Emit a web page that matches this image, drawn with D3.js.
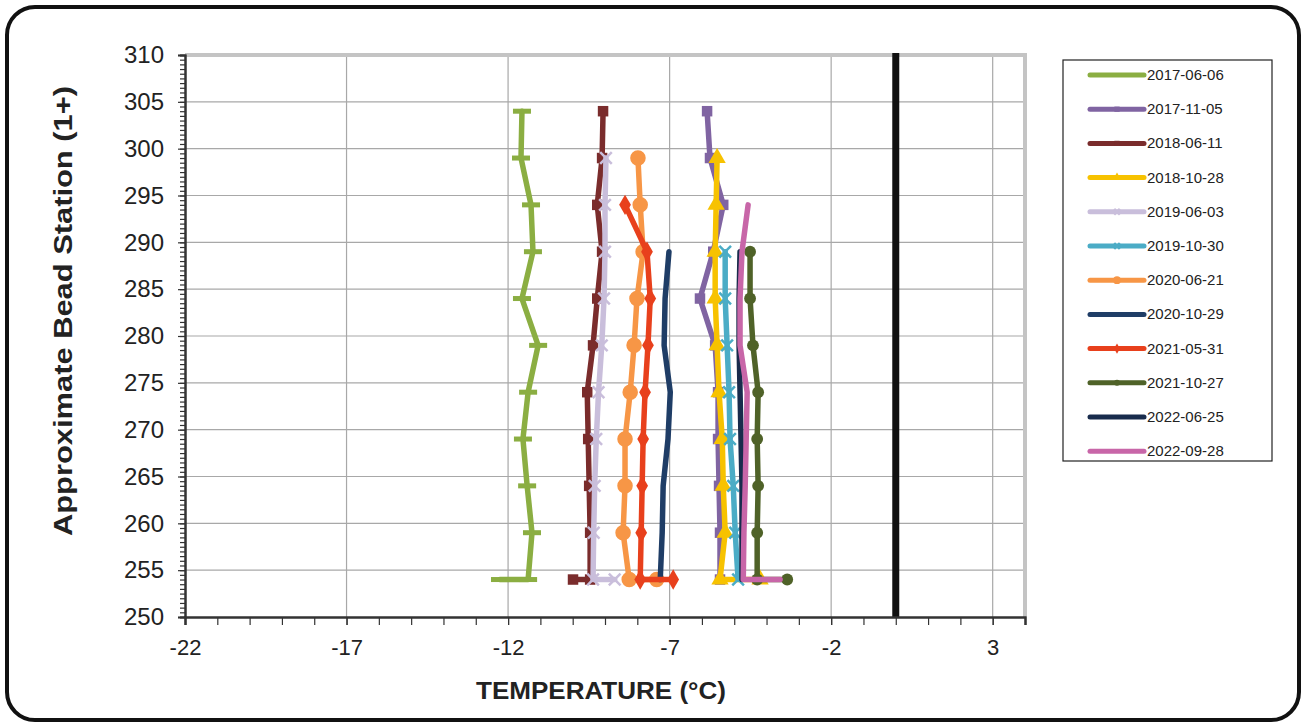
<!DOCTYPE html>
<html>
<head>
<meta charset="utf-8">
<script src="https://cdn.jsdelivr.net/npm/d3@7"></script>
<style>
  body { margin: 0; background: #fff; }
  svg { display: block; font-family: Arial, "Liberation Sans", sans-serif; }
</style>
</head>
<body>
<div id="d3"></div>
<script>
// stations, top to bottom; the last 254 is the bottom bead reading
const stations = [304, 299, 294, 289, 284, 279, 274, 269, 264, 259, 254, 254];

const dates = ['2017-06-06', '2017-11-05', '2018-06-11', '2018-10-28', '2019-06-03', '2019-10-30',
  '2020-06-21', '2020-10-29', '2021-05-31', '2021-10-27', '2022-06-25', '2022-09-28'];

const t20170606 = [-11.57, -11.60, -11.29, -11.23, -11.57, -11.07, -11.38, -11.54, -11.41, -11.26, -11.38, -12.25];
const t20171105 = [-5.84, -5.75, -5.34, -5.65, -6.06, -5.59, -5.50, -5.50, -5.47, -5.44, -5.44, null];
const t20180611 = [-9.06, -9.09, -9.24, -9.09, -9.24, -9.37, -9.55, -9.52, -9.49, -9.46, -9.46, -9.99];
const t20181028 = [null, -5.53, -5.56, -5.59, -5.59, -5.53, -5.47, -5.37, -5.34, -5.28, -5.44, -4.20];
const t20190603 = [null, -8.97, -9.00, -9.00, -9.03, -9.10, -9.20, -9.27, -9.32, -9.35, -9.37, -8.70];
const t20191030 = [null, null, null, -5.28, -5.28, -5.22, -5.16, -5.13, -5.03, -4.97, -4.88, null];
const t20200621 = [null, -7.98, -7.91, -7.82, -8.01, -8.10, -8.22, -8.38, -8.38, -8.44, -8.25, -7.40];
const t20201029 = [null, null, null, -7.02, -7.14, -7.17, -6.98, -7.05, -7.20, -7.23, -7.29, null];
const t20210531 = [null, null, -8.38, -7.70, -7.60, -7.67, -7.76, -7.82, -7.85, -7.88, -7.91, -6.89];
const t20211027 = [null, null, null, -4.51, -4.51, -4.42, -4.26, -4.29, -4.26, -4.29, -4.29, -3.36];
const t20220625 = [null, null, null, -4.82, -4.85, -4.85, -4.82, -4.79, -4.76, -4.76, -4.76, null];
const t20220928 = [null, null, -4.57, -4.76, -4.82, -4.82, -4.60, -4.63, -4.66, -4.70, -4.72, -3.58];

const xTicks = [-22, -17, -12, -7, -2, 3];
const yTicks = [250, 255, 260, 265, 270, 275, 280, 285, 290, 295, 300, 305, 310];
const freezeLine = 0;

const temps = [t20170606, t20171105, t20180611, t20181028, t20190603, t20191030,
  t20200621, t20201029, t20210531, t20211027, t20220625, t20220928];

const colors = ['#8BAE42', '#8064A2', '#7A2C2C', '#F7C200', '#C9BEDB', '#4BACC6',
  '#F79646', '#1F3D66', '#E8401C', '#4F6228', '#182B4C', '#C866A8'];
const markers = ['dash', 'square', 'square', 'triangle', 'x', 'x',
  'circle', 'none', 'diamond', 'circle', 'none', 'none'];

const W = 1306, H = 727;
const plot = { left: 185, top: 55, right: 1025, bottom: 617 };

const x = d3.scaleLinear().domain([-22, 4]).range([plot.left, plot.right]);
const y = d3.scaleLinear().domain([250, 310]).range([plot.bottom, plot.top]);

const svg = d3.select('#d3').append('svg')
  .attr('width', W)
  .attr('height', H);

// outer frame
svg.append('rect')
  .attr('x', 7).attr('y', 7)
  .attr('width', W - 14).attr('height', H - 14)
  .attr('rx', 28)
  .attr('fill', '#fff')
  .attr('stroke', '#111')
  .attr('stroke-width', 4);

// gridlines
svg.append('g')
  .selectAll('line')
  .data(yTicks.slice(1, -1))
  .enter().append('line')
  .attr('x1', plot.left).attr('x2', plot.right)
  .attr('y1', (d) => y(d)).attr('y2', (d) => y(d))
  .attr('stroke', '#A8A8A8').attr('stroke-width', 1.2);

svg.append('g')
  .selectAll('line')
  .data(xTicks.slice(1))
  .enter().append('line')
  .attr('x1', (d) => x(d)).attr('x2', (d) => x(d))
  .attr('y1', plot.top).attr('y2', plot.bottom)
  .attr('stroke', '#A8A8A8').attr('stroke-width', 1.2);

// plot border (top/right light gray)
svg.append('path')
  .attr('d', `M${plot.left},${plot.top}H${plot.right}V${plot.bottom}`)
  .attr('fill', 'none')
  .attr('stroke', '#C4C4C4')
  .attr('stroke-width', 4);

// 0 °C line
svg.append('line')
  .attr('x1', x(freezeLine)).attr('x2', x(freezeLine))
  .attr('y1', plot.top - 2).attr('y2', plot.bottom)
  .attr('stroke', '#111')
  .attr('stroke-width', 7);

// axes
const yAxis = d3.axisLeft(y).tickValues(yTicks).tickSize(7).tickPadding(14).tickFormat((d) => String(d));
const yMinor = d3.axisLeft(y).tickValues(d3.range(250, 310.1, 0.5)).tickSize(5).tickFormat('');
const xAxis = d3.axisBottom(x).tickValues(xTicks).tickSize(8).tickPadding(14).tickFormat((d) => String(d));
const xMinor = d3.axisBottom(x).tickValues(d3.range(-22, 4.1, 1)).tickSize(8).tickFormat('');

svg.append('g').attr('transform', `translate(${plot.left},0)`).call(yMinor);
const gy = svg.append('g').attr('transform', `translate(${plot.left},0)`).call(yAxis);
svg.append('g').attr('transform', `translate(0,${plot.bottom})`).call(xMinor);
const gx = svg.append('g').attr('transform', `translate(0,${plot.bottom})`).call(xAxis);

svg.selectAll('.domain').attr('stroke', '#333').attr('stroke-width', 2);
svg.selectAll('.tick line').attr('stroke', '#333').attr('stroke-width', 1.2);
gy.selectAll('text').attr('font-size', 24).attr('fill', '#222');
gx.selectAll('text').attr('font-size', 22).attr('fill', '#222');

// axis titles
svg.append('text')
  .attr('x', 601).attr('y', 699)
  .attr('text-anchor', 'middle')
  .attr('font-size', 24).attr('font-weight', 'bold').attr('fill', '#222')
  .attr('textLength', 250).attr('lengthAdjust', 'spacingAndGlyphs')
  .text('TEMPERATURE (°C)');

svg.append('text')
  .attr('transform', 'translate(72,311) rotate(-90)')
  .attr('text-anchor', 'middle')
  .attr('font-size', 25).attr('font-weight', 'bold').attr('fill', '#222')
  .attr('textLength', 450).attr('lengthAdjust', 'spacingAndGlyphs')
  .text('Approximate Bead Station (1+)');

// series
const line = d3.line()
  .defined((d) => d.t !== null)
  .x((d) => x(d.t))
  .y((d) => y(d.s));

function drawMarker(g, type, color, px, py, scale) {
  const k = scale || 1;
  if (type === 'dash') {
    g.append('rect').attr('x', px - 9 * k).attr('y', py - 2.5 * k)
      .attr('width', 18 * k).attr('height', 5 * k).attr('fill', color);
  } else if (type === 'x') {
    g.append('path')
      .attr('d', d3.symbol(d3.symbolX, 90 * k * k)())
      .attr('transform', `translate(${px},${py})`)
      .attr('fill', 'none').attr('stroke', color).attr('stroke-width', 2.5);
  } else if (type !== 'none') {
    const sym = { square: d3.symbolSquare, triangle: d3.symbolTriangle, circle: d3.symbolCircle, diamond: d3.symbolDiamond }[type];
    const size = { square: 110, triangle: 130, circle: color === '#F79646' ? 190 : 110, diamond: 120 }[type];
    g.append('path')
      .attr('d', d3.symbol(sym, size * k * k)())
      .attr('transform', `translate(${px},${py})`)
      .attr('fill', color);
  }
}

temps.forEach((arr, i) => {
  const pts = stations.map((s, j) => ({ s, t: arr[j] }));
  const g = svg.append('g');
  g.append('path')
    .datum(pts)
    .attr('d', line)
    .attr('fill', 'none')
    .attr('stroke', colors[i])
    .attr('stroke-width', 5.5)
    .attr('stroke-linejoin', 'round')
    .attr('stroke-linecap', 'round');
  pts.filter((d) => d.t !== null).forEach((d) => {
    drawMarker(g, markers[i], colors[i], x(d.t), y(d.s));
  });
});

// legend
const lg = svg.append('g');
lg.append('rect')
  .attr('x', 1063).attr('y', 60)
  .attr('width', 209).attr('height', 401)
  .attr('fill', '#fff').attr('stroke', '#222').attr('stroke-width', 1.2);

dates.forEach((d, i) => {
  const ly = 75 + i * 34.2;
  lg.append('line')
    .attr('x1', 1090).attr('x2', 1144)
    .attr('y1', ly).attr('y2', ly)
    .attr('stroke', colors[i]).attr('stroke-width', 5)
    .attr('stroke-linecap', 'round');
  drawMarker(lg, markers[i], colors[i], 1117, ly, 0.5);
  lg.append('text')
    .attr('x', 1147).attr('y', ly + 5)
    .attr('font-size', 15).attr('fill', '#222')
    .text(d);
});
</script>
</body>
</html>
